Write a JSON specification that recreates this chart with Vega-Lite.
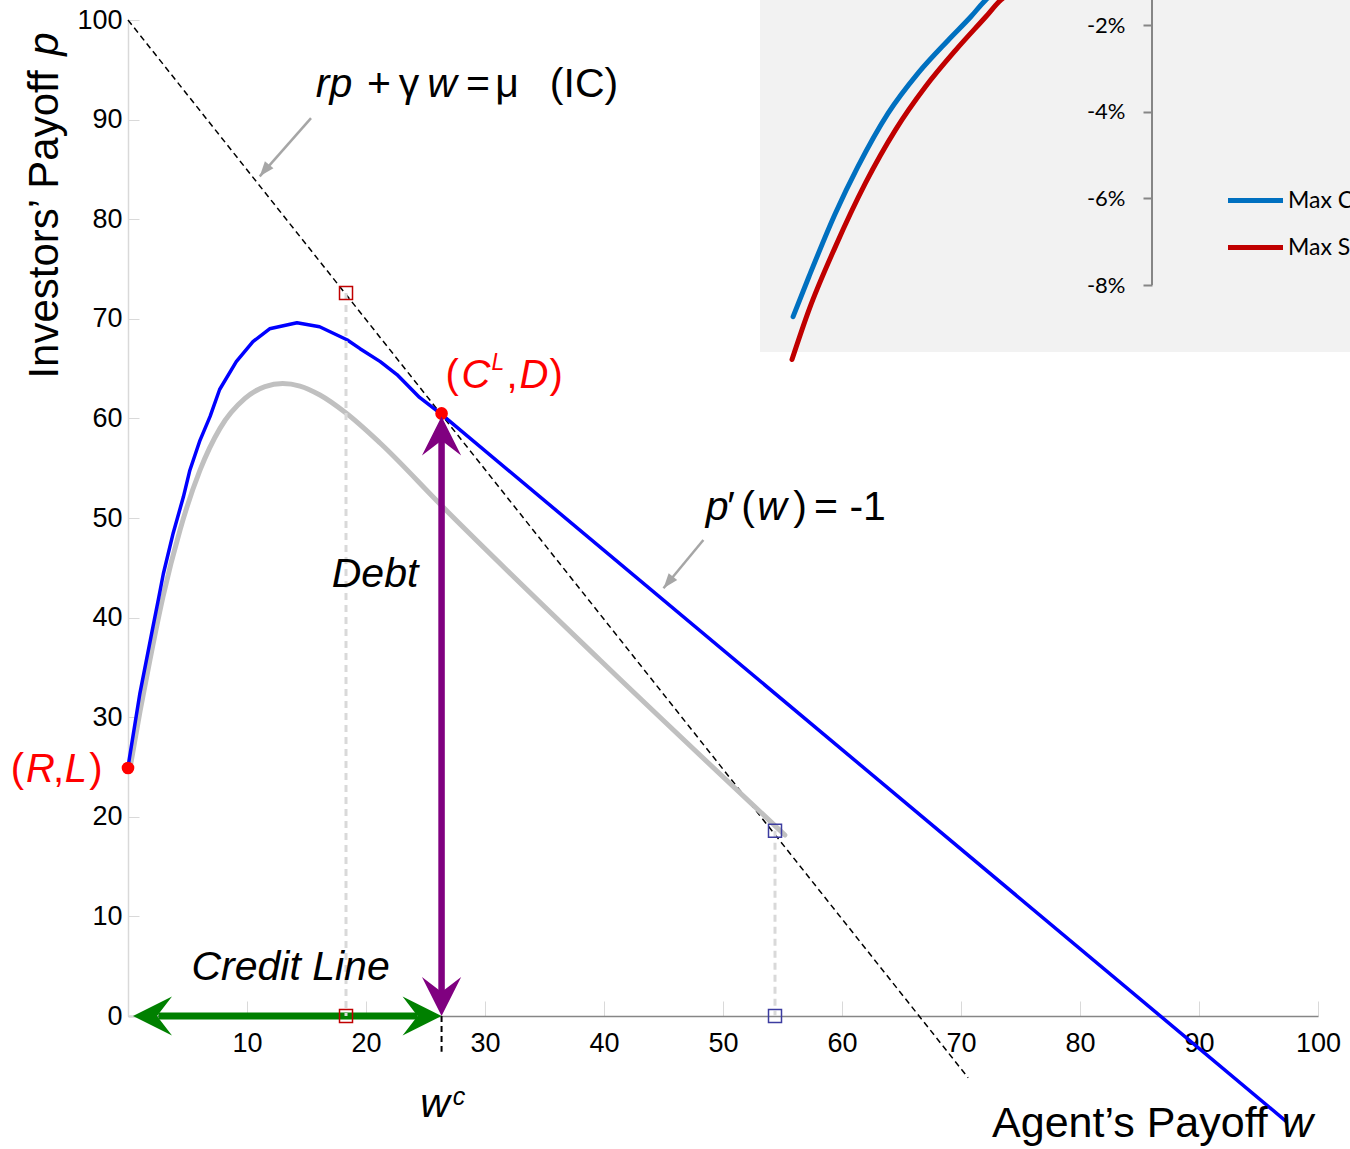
{
  "$schema": "https://vega.github.io/schema/vega-lite/v6.json",
  "width": 1190,
  "height": 996,
  "autosize": {"type": "none"},
  "padding": {"left": 128, "top": 20, "right": 32, "bottom": 133},
  "background": "white",
  "config": {"view": {"stroke": null}, "font": "Liberation Sans"},
  "layer": [
    {
      "encoding": {
        "x": {"field": "t", "type": "quantitative", "scale": {"domain": [0, 119], "nice": false, "zero": false}, "axis": null},
        "y": {
          "field": "g", "type": "quantitative",
          "scale": {"domain": [-0.24869, -0.018846], "nice": false, "zero": false},
          "axis": {
            "orient": "left", "offset": -1024, "title": null, "zindex": 2,
            "values": [-0.08, -0.06, -0.04, -0.02],
            "labelExpr": "round(datum.value * 100) + '%'",
            "domain": false, "grid": false,
            "tickColor": "#868686", "tickWidth": 2, "tickSize": 9,
            "labelPadding": 18, "labelFont": "Lato", "labelFontSize": 22, "labelColor": "#000000",
            "labelFlush": false, "labelOverlap": false
          }
        }
      },
      "layer": [
        {
          "data": {"values": [{"t": 63.2, "t2": 125, "g": -0.09547, "g2": -0.005}]},
          "mark": {"type": "rect", "color": "#f2f2f2"},
          "encoding": {"x2": {"field": "t2"}, "y2": {"field": "g2"}}
        },
        {
          "data": {"values": [{"t": 102.4, "g": -0.08, "g2": -0.005}]},
          "mark": {"type": "rule", "color": "#868686", "strokeWidth": 2},
          "encoding": {"y2": {"field": "g2"}}
        },
        {
          "data": {"values": [
            {"series": "Max CE", "t": 66.51, "g": -0.0873},
            {"series": "Max CE", "t": 68.09, "g": -0.0781},
            {"series": "Max CE", "t": 70.73, "g": -0.0635},
            {"series": "Max CE", "t": 72.99, "g": -0.0527},
            {"series": "Max CE", "t": 76.0, "g": -0.0404},
            {"series": "Max CE", "t": 79.01, "g": -0.0311},
            {"series": "Max CE", "t": 82.02, "g": -0.0235},
            {"series": "Max CE", "t": 84.28, "g": -0.0181},
            {"series": "Max CE", "t": 85.78, "g": -0.0142},
            {"series": "Max CE", "t": 86.7, "g": -0.0124},
            {"series": "Max SW", "t": 66.4, "g": -0.0972},
            {"series": "Max SW", "t": 68.09, "g": -0.0858},
            {"series": "Max SW", "t": 70.73, "g": -0.0712},
            {"series": "Max SW", "t": 73.74, "g": -0.0565},
            {"series": "Max SW", "t": 76.75, "g": -0.0442},
            {"series": "Max SW", "t": 79.76, "g": -0.0342},
            {"series": "Max SW", "t": 82.77, "g": -0.0258},
            {"series": "Max SW", "t": 85.78, "g": -0.0181},
            {"series": "Max SW", "t": 87.29, "g": -0.0142},
            {"series": "Max SW", "t": 88.4, "g": -0.0124}
          ]},
          "mark": {"type": "line", "strokeWidth": 5, "strokeCap": "round", "interpolate": "monotone"},
          "encoding": {
            "color": {
              "field": "series", "type": "nominal",
              "scale": {"domain": ["Max CE", "Max SW"], "range": ["#0070c0", "#c00000"]},
              "legend": {
                "orient": "none", "legendX": 1115, "legendY": 168, "title": null, "padding": 0,
                "symbolType": "M-2.75,0H2.75", "symbolSize": 400, "symbolStrokeWidth": 5,
                "labelFont": "Lato", "labelFontSize": 23, "labelColor": "#000000",
                "labelOffset": 20, "rowPadding": 22, "labelLimit": 0
              }
            }
          }
        }
      ]
    },
    {
      "encoding": {
        "x": {
          "field": "w", "type": "quantitative",
          "scale": {"domain": [0, 100], "nice": false, "zero": false},
          "axis": {
            "orient": "bottom", "title": null, "values": [10, 20, 30, 40, 50, 60, 70, 80, 90, 100],
            "domainColor": "#868686", "domainWidth": 1.5,
            "tickColor": "#d9d9d9", "tickSize": -15, "tickWidth": 1,
            "labelFont": "Liberation Sans", "labelFontSize": 27, "labelColor": "#000000",
            "labelPadding": 29, "grid": false, "labelFlush": false, "labelOverlap": false
          }
        },
        "y": {
          "field": "p", "type": "quantitative",
          "scale": {"domain": [0, 100], "nice": false, "zero": false},
          "axis": {
            "orient": "left", "title": null, "values": [0, 10, 20, 30, 40, 50, 60, 70, 80, 90, 100],
            "domainColor": "#d9d9d9", "domainWidth": 1.5,
            "tickColor": "#d9d9d9", "tickSize": -11, "tickWidth": 1,
            "labelFont": "Liberation Sans", "labelFontSize": 27, "labelColor": "#000000",
            "labelPadding": 17, "grid": false, "labelFlush": false, "labelOverlap": false
          }
        }
      },
      "layer": [
        {
          "data": {"values": [{"w": 0, "p": 100, "w2": 70.6, "p2": -6.2}]},
          "mark": {"type": "rule", "color": "#000000", "strokeWidth": 1.5, "strokeDash": [6, 4]},
          "encoding": {"x2": {"field": "w2"}, "y2": {"field": "p2"}}
        },
        {
          "data": {"values": [
            {"w": 0.17, "p": 24.9}, {"w": 1.01, "p": 30.6}, {"w": 1.85, "p": 35.8},
            {"w": 2.94, "p": 42.1}, {"w": 4.37, "p": 48.8}, {"w": 6.05, "p": 54.8},
            {"w": 7.73, "p": 59.0}, {"w": 9.83, "p": 62.0}, {"w": 11.51, "p": 63.2},
            {"w": 13.0, "p": 63.5}, {"w": 14.45, "p": 63.25}, {"w": 16.13, "p": 62.35},
            {"w": 18.32, "p": 60.54}, {"w": 21.18, "p": 57.53}, {"w": 26.3, "p": 51.3},
            {"w": 39.66, "p": 35.74}, {"w": 55.2, "p": 18.17}
          ]},
          "mark": {"type": "line", "color": "#c0c0c0", "strokeWidth": 5, "strokeCap": "round", "interpolate": "monotone"}
        },
        {
          "data": {"values": [
            {"w": 0.0, "p": 25.0}, {"w": 1.0, "p": 32.4}, {"w": 2.1, "p": 39.1},
            {"w": 2.55, "p": 41.8}, {"w": 2.97, "p": 44.4}, {"w": 3.8, "p": 48.5},
            {"w": 4.65, "p": 52.1}, {"w": 5.2, "p": 54.8}, {"w": 6.05, "p": 57.8},
            {"w": 6.9, "p": 60.2}, {"w": 7.7, "p": 62.9}, {"w": 9.1, "p": 65.7},
            {"w": 10.5, "p": 67.7}, {"w": 11.9, "p": 69.0}, {"w": 14.2, "p": 69.6},
            {"w": 16.1, "p": 69.2}, {"w": 18.4, "p": 67.9}, {"w": 19.5, "p": 67.0},
            {"w": 21.2, "p": 65.7}, {"w": 22.6, "p": 64.4}, {"w": 24.5, "p": 62.1},
            {"w": 26.35, "p": 60.4}, {"w": 97.4, "p": -10.65}
          ]},
          "mark": {"type": "line", "color": "#0000ff", "strokeWidth": 3.5, "strokeJoin": "round"}
        },
        {
          "data": {"values": [{"w": 26.35, "p": 0, "p2": -3.6}]},
          "mark": {"type": "rule", "color": "#000000", "strokeWidth": 2, "strokeDash": [6, 4]},
          "encoding": {"y2": {"field": "p2"}}
        },
        {
          "data": {"values": [{"w": 2.55, "w2": 24.3, "p": 0}]},
          "mark": {"type": "rule", "color": "#008000", "strokeWidth": 7},
          "encoding": {"x2": {"field": "w2"}}
        },
        {
          "data": {"values": [{"w": 18.32, "p": 72.6, "p2": 0}, {"w": 54.37, "p": 18.6, "p2": 0}]},
          "mark": {"type": "rule", "color": "#d9d9d9", "strokeWidth": 3, "strokeDash": [7, 5]},
          "encoding": {"y2": {"field": "p2"}}
        },
        {
          "data": {"values": [{"w": 18.32, "p": 72.6}, {"w": 18.32, "p": 0}]},
          "mark": {"type": "point", "shape": "square", "filled": false, "color": "#c00000", "strokeWidth": 1.5, "size": 169, "opacity": 1}
        },
        {
          "data": {"values": [{"w": 54.37, "p": 18.6}, {"w": 54.37, "p": 0}]},
          "mark": {"type": "point", "shape": "square", "filled": false, "color": "#3c3ca0", "strokeWidth": 1.5, "size": 169, "opacity": 1}
        },
        {
          "data": {"values": [{"w": 0, "p": 24.9}, {"w": 26.35, "p": 60.5}]},
          "mark": {"type": "point", "shape": "circle", "filled": true, "color": "#ff0000", "size": 160, "opacity": 1}
        },
        {
          "data": {"values": [{"w": 26.35, "p": 2.3, "p2": 58.0}]},
          "mark": {"type": "rule", "color": "#800080", "strokeWidth": 6.5},
          "encoding": {"y2": {"field": "p2"}}
        },
        {
          "data": {"values": [{"w": 26.35, "p": 60.2}]},
          "mark": {"type": "point", "shape": "M0,0L0.98,1.95L0,1.2L-0.98,1.95Z", "size": 1600, "angle": 0, "filled": true, "color": "#800080", "opacity": 1}
        },
        {
          "data": {"values": [{"w": 26.35, "p": 0}]},
          "mark": {"type": "point", "shape": "M0,0L0.98,1.95L0,1.2L-0.98,1.95Z", "size": 1600, "angle": 180, "filled": true, "color": "#800080", "opacity": 1}
        },
        {
          "data": {"values": [{"w": 0.42, "p": 0}]},
          "mark": {"type": "point", "shape": "M0,0L0.98,1.95L0,1.2L-0.98,1.95Z", "size": 1600, "angle": 270, "filled": true, "color": "#008000", "opacity": 1}
        },
        {
          "data": {"values": [{"w": 26.35, "p": 0}]},
          "mark": {"type": "point", "shape": "M0,0L0.98,1.95L0,1.2L-0.98,1.95Z", "size": 1600, "angle": 90, "filled": true, "color": "#008000", "opacity": 1}
        },
        {
          "data": {"values": [
            {"w": 15.38, "p": 90.15, "w2": 11.07, "p2": 84.3},
            {"w": 48.35, "p": 47.79, "w2": 45.0, "p2": 42.94}
          ]},
          "mark": {"type": "rule", "color": "#a6a6a6", "strokeWidth": 2.5},
          "encoding": {"x2": {"field": "w2"}, "y2": {"field": "p2"}}
        },
        {
          "data": {"values": [{"w": 11.07, "p": 84.3}, {"w": 45.0, "p": 42.94}]},
          "mark": {"type": "point", "shape": "M0,0L0.55,1.5L-0.55,1.5Z", "size": 400, "angle": 219, "filled": true, "color": "#a6a6a6", "opacity": 1}
        },
        {
          "data": {"values": [
            {"w": 21.09, "p": 92.27, "label": "+"},
            {"w": 23.61, "p": 92.27, "label": "γ"},
            {"w": 29.41, "p": 92.27, "label": "="},
            {"w": 31.85, "p": 92.27, "label": "μ"},
            {"w": 38.32, "p": 92.27, "label": "(IC)"},
            {"w": 50.67, "p": 49.8, "label": "′"},
            {"w": 52.1, "p": 49.8, "label": "("},
            {"w": 56.47, "p": 49.8, "label": ")"},
            {"w": 60.67, "p": 49.8, "label": "= -1"}
          ]},
          "mark": {"type": "text", "font": "Liberation Sans", "fontSize": 41, "align": "center", "baseline": "alphabetic", "color": "#000000"},
          "encoding": {"text": {"field": "label"}}
        },
        {
          "data": {"values": [
            {"w": 17.31, "p": 92.27, "label": "rp"},
            {"w": 26.39, "p": 92.27, "label": "w"},
            {"w": 49.5, "p": 49.8, "label": "p"},
            {"w": 54.12, "p": 49.8, "label": "w"},
            {"w": 20.76, "p": 43.07, "label": "Debt"},
            {"w": 13.66, "p": 3.61, "label": "Credit Line"},
            {"w": 25.8, "p": -10.14, "label": "w"}
          ]},
          "mark": {"type": "text", "font": "Liberation Sans", "fontSize": 41, "fontStyle": "italic", "align": "center", "baseline": "alphabetic", "color": "#000000"},
          "encoding": {"text": {"field": "label"}}
        },
        {
          "data": {"values": [{"w": 27.82, "p": -8.94, "label": "c"}]},
          "mark": {"type": "text", "font": "Liberation Sans", "fontSize": 25, "fontStyle": "italic", "align": "center", "baseline": "alphabetic", "color": "#000000"},
          "encoding": {"text": {"field": "label"}}
        },
        {
          "data": {"values": [
            {"w": 27.23, "p": 63.05, "label": "("},
            {"w": 32.27, "p": 63.05, "label": ","},
            {"w": 35.97, "p": 63.05, "label": ")"},
            {"w": -9.29, "p": 23.49, "label": "("},
            {"w": -5.84, "p": 23.49, "label": ","},
            {"w": -2.69, "p": 23.49, "label": ")"}
          ]},
          "mark": {"type": "text", "font": "Liberation Sans", "fontSize": 40, "align": "center", "baseline": "alphabetic", "color": "#ff0000"},
          "encoding": {"text": {"field": "label"}}
        },
        {
          "data": {"values": [
            {"w": 29.24, "p": 63.05, "label": "C"},
            {"w": 34.12, "p": 63.05, "label": "D"},
            {"w": -7.35, "p": 23.49, "label": "R"},
            {"w": -4.37, "p": 23.49, "label": "L"}
          ]},
          "mark": {"type": "text", "font": "Liberation Sans", "fontSize": 40, "fontStyle": "italic", "align": "center", "baseline": "alphabetic", "color": "#ff0000"},
          "encoding": {"text": {"field": "label"}}
        },
        {
          "data": {"values": [{"w": 31.09, "p": 64.86, "label": "L"}]},
          "mark": {"type": "text", "font": "Liberation Sans", "fontSize": 23, "fontStyle": "italic", "align": "center", "baseline": "alphabetic", "color": "#ff0000"},
          "encoding": {"text": {"field": "label"}}
        },
        {
          "data": {"values": [{"w": -5.88, "p": 64.0, "label": "Investors’ Payoff"}]},
          "mark": {"type": "text", "font": "Liberation Sans", "fontSize": 42, "angle": 270, "align": "left", "baseline": "alphabetic", "color": "#000000"},
          "encoding": {"text": {"field": "label"}}
        },
        {
          "data": {"values": [{"w": -5.88, "p": 96.4, "label": "p"}]},
          "mark": {"type": "text", "font": "Liberation Sans", "fontSize": 42, "fontStyle": "italic", "angle": 270, "align": "left", "baseline": "alphabetic", "color": "#000000"},
          "encoding": {"text": {"field": "label"}}
        },
        {
          "data": {"values": [{"w": 72.61, "p": -12.15, "label": "Agent’s Payoff"}]},
          "mark": {"type": "text", "font": "Liberation Sans", "fontSize": 43, "align": "left", "baseline": "alphabetic", "color": "#000000"},
          "encoding": {"text": {"field": "label"}}
        },
        {
          "data": {"values": [{"w": 96.97, "p": -12.15, "label": "w"}]},
          "mark": {"type": "text", "font": "Liberation Sans", "fontSize": 43, "fontStyle": "italic", "align": "left", "baseline": "alphabetic", "color": "#000000"},
          "encoding": {"text": {"field": "label"}}
        }
      ]
    }
  ],
  "resolve": {
    "scale": {"x": "independent", "y": "independent"},
    "axis": {"x": "independent", "y": "independent"}
  }
}
